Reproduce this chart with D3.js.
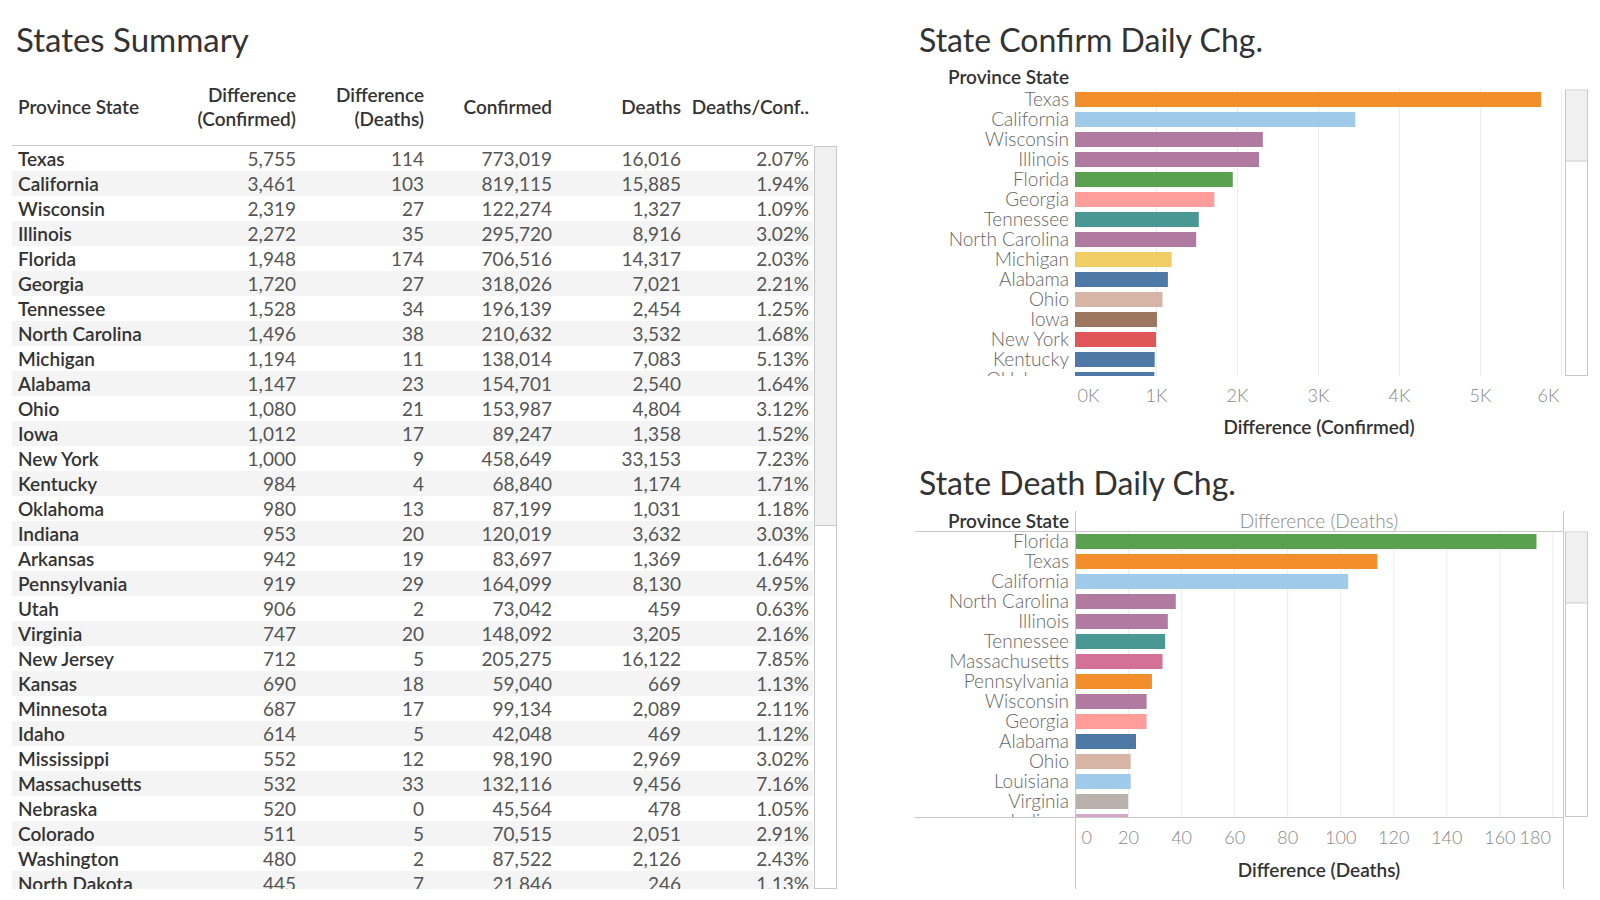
<!DOCTYPE html>
<html><head><meta charset="utf-8">
<script src="https://cdn.jsdelivr.net/npm/d3@7"></script>
<style>
html,body{margin:0;padding:0;background:#fff;}
svg{display:block;font-family:Lato,"Open Sans",sans-serif;}
</style></head>
<body>
<svg id="c" width="1600" height="900"></svg>
<script>
// ---- Table data ----
const states = ["Texas","California","Wisconsin","Illinois","Florida","Georgia","Tennessee","North Carolina","Michigan","Alabama","Ohio","Iowa","New York","Kentucky","Oklahoma","Indiana","Arkansas","Pennsylvania","Utah","Virginia","New Jersey","Kansas","Minnesota","Idaho","Mississippi","Massachusetts","Nebraska","Colorado","Washington","North Dakota"];
const diffConfirmed = [5755,3461,2319,2272,1948,1720,1528,1496,1194,1147,1080,1012,1000,984,980,953,942,919,906,747,712,690,687,614,552,532,520,511,480,445];
const diffDeaths = [114,103,27,35,174,27,34,38,11,23,21,17,9,4,13,20,19,29,2,20,5,18,17,5,12,33,0,5,2,7];
const confirmed = [773019,819115,122274,295720,706516,318026,196139,210632,138014,154701,153987,89247,458649,68840,87199,120019,83697,164099,73042,148092,205275,59040,99134,42048,98190,132116,45564,70515,87522,21846];
const deaths = [16016,15885,1327,8916,14317,7021,2454,3532,7083,2540,4804,1358,33153,1174,1031,3632,1369,8130,459,3205,16122,669,2089,469,2969,9456,478,2051,2126,246];
const deathRate = [2.07,1.94,1.09,3.02,2.03,2.21,1.25,1.68,5.13,1.64,3.12,1.52,7.23,1.71,1.18,3.03,1.64,4.95,0.63,2.16,7.85,1.13,2.11,1.12,3.02,7.16,1.05,2.91,2.43,1.13];

// ---- Confirmed daily change chart ----
const confStates = ["Texas","California","Wisconsin","Illinois","Florida","Georgia","Tennessee","North Carolina","Michigan","Alabama","Ohio","Iowa","New York","Kentucky","Oklahoma"];
const confValues = [5755,3461,2319,2272,1948,1720,1528,1496,1194,1147,1080,1012,1000,984,980];
const confTicks = [0,1000,2000,3000,4000,5000,6000];

// ---- Death daily change chart ----
const deathStates = ["Florida","Texas","California","North Carolina","Illinois","Tennessee","Massachusetts","Pennsylvania","Wisconsin","Georgia","Alabama","Ohio","Louisiana","Virginia","Indiana"];
const deathValues = [174,114,103,38,35,34,33,29,27,27,23,21,21,20,20];
const deathTicks = [0,20,40,60,80,100,120,140,160,180];

// ---- state colours ----
const stateColor = {
  "Texas":"#F28E2B","California":"#A0CBE8","Wisconsin":"#B07AA1","Illinois":"#B07AA1",
  "Florida":"#59A14F","Georgia":"#FF9D9A","Tennessee":"#499894","North Carolina":"#B07AA1",
  "Michigan":"#F1CE63","Alabama":"#4E79A7","Ohio":"#D7B5A6","Iowa":"#9D7660",
  "New York":"#E15759","Kentucky":"#4E79A7","Oklahoma":"#4E79A7","Massachusetts":"#D37295",
  "Pennsylvania":"#F28E2B","Louisiana":"#A0CBE8","Virginia":"#BAB0AC","Indiana":"#D4A6C8"
};

const FS = 19;
const svg = d3.select("#c");
const fmt = d3.format(",");
const defs = svg.append("defs");

// ===== Table =====
svg.append("text").attr("x",16).attr("y",52).attr("font-size",33).attr("fill","#333").text("States Summary");

const cols = [
  {h:["Difference","(Confirmed)"], x:296, v:diffConfirmed, f:fmt},
  {h:["Difference","(Deaths)"], x:424, v:diffDeaths, f:fmt},
  {h:["Confirmed"], x:552, v:confirmed, f:fmt},
  {h:["Deaths"], x:681, v:deaths, f:fmt},
  {h:["Deaths/Conf.."], x:809, v:deathRate, f:d=>d3.format(".2f")(d)+"%"}
];
const hdr = svg.append("g").attr("font-size",FS).attr("fill","#333").attr("font-weight",600);
hdr.append("text").attr("x",18).attr("y",114).text("Province State");
cols.forEach(c=>{
  if(c.h.length===2){
    hdr.append("text").attr("x",c.x).attr("y",102).attr("text-anchor","end").text(c.h[0]);
    hdr.append("text").attr("x",c.x).attr("y",126).attr("text-anchor","end").text(c.h[1]);
  } else {
    hdr.append("text").attr("x",c.x).attr("y",114).attr("text-anchor","end").text(c.h[0]);
  }
});
svg.append("line").attr("x1",12).attr("x2",813).attr("y1",145.5).attr("y2",145.5).attr("stroke","#ccc");

defs.append("clipPath").attr("id","tclip").append("rect").attr("x",0).attr("y",146).attr("width",814).attr("height",743);
const rowY = d3.scaleBand().domain(states).range([146,146+25*states.length]);
const tb = svg.append("g").attr("clip-path","url(#tclip)");
const rows = tb.selectAll("g.row").data(states).join("g").attr("class","row")
  .attr("transform",d=>`translate(0,${rowY(d)})`);
rows.filter((d,i)=>i%2===1).append("rect").attr("x",12).attr("width",801).attr("height",25).attr("fill","#f4f4f4");
rows.append("text").attr("x",18).attr("y",19.5).attr("font-size",FS).attr("font-weight",600).attr("fill","#333").text(d=>d);
cols.forEach(c=>{
  rows.append("text").attr("x",c.x).attr("y",19.5).attr("text-anchor","end").attr("font-size",FS)
    .attr("fill","#555").text((d,i)=>c.f(c.v[i]));
});
// table scrollbar
svg.append("rect").attr("x",814.5).attr("y",146.5).attr("width",22).attr("height",742).attr("fill","#fff").attr("stroke","#c8c8c8");
svg.append("rect").attr("x",815).attr("y",147).attr("width",21).attr("height",378).attr("fill","#f0f0f0");
svg.append("line").attr("x1",815).attr("x2",836).attr("y1",525.5).attr("y2",525.5).attr("stroke","#c8c8c8");

// ===== Bar chart helper =====
function barChart(o){
  const g = svg.append("g");
  const x = d3.scaleLinear().domain(o.domain).range([1075,1563]);
  const y = d3.scaleBand().domain(o.cats).range([o.top,o.top+20*o.cats.length]).paddingInner(0.25).paddingOuter(0.125);
  defs.append("clipPath").attr("id",o.id).append("rect").attr("x",900).attr("y",o.top).attr("width",663).attr("height",o.bottom-o.top);
  // gridlines
  g.append("g").selectAll("line").data(o.ticks.slice(1)).join("line")
    .attr("x1",d=>x(d)+0.5).attr("x2",d=>x(d)+0.5).attr("y1",o.gridTop).attr("y2",o.bottom)
    .attr("stroke","#ececec");
  const p = g.append("g").attr("clip-path",`url(#${o.id})`);
  p.selectAll("rect").data(o.cats).join("rect")
    .attr("x",x(0)).attr("y",d=>y(d)).attr("height",y.bandwidth())
    .attr("width",(d,i)=>x(o.values[i])-x(0)).attr("fill",d=>stateColor[d]);
  p.selectAll("text").data(o.cats).join("text")
    .attr("x",1069).attr("y",d=>y(d)+y.bandwidth()/2).attr("dy","0.35em").attr("text-anchor","end")
    .attr("font-size",FS).attr("font-weight",300).attr("fill","#666").text(d=>d);
  // axis
  const ax = d3.axisBottom(x).tickValues(o.ticks).tickSize(0).tickFormat(o.tf);
  const axg = g.append("g").attr("transform",`translate(0,${o.bottom})`).call(ax);
  axg.select(".domain").remove();
  axg.selectAll("text").attr("font-size",18).attr("font-weight",300).attr("fill","#888")
    .attr("font-family","Lato,sans-serif").attr("dy","0.35em").attr("y",o.tickY-o.bottom)
    .attr("text-anchor",(d,i)=> i===0?"start":(i===o.ticks.length-1?"end":"middle"))
    .attr("dx",(d,i)=> i===0?o.firstDx:(i===o.ticks.length-1?-2:0));
  g.append("text").attr("x",1319).attr("y",o.titleY).attr("text-anchor","middle").attr("font-size",FS)
    .attr("font-weight",600).attr("fill","#333").text(o.axisTitle);
  // scrollbar
  g.append("rect").attr("x",1565.5).attr("y",o.top+0.5).attr("width",22).attr("height",o.bottom-o.top-1).attr("fill","#fff").attr("stroke","#c8c8c8");
  g.append("rect").attr("x",1566).attr("y",o.top+1).attr("width",21).attr("height",o.thumb).attr("fill","#f0f0f0");
  g.append("line").attr("x1",1566).attr("x2",1587).attr("y1",o.top+1+o.thumb+0.5).attr("y2",o.top+1+o.thumb+0.5).attr("stroke","#c8c8c8");
  return {g,x,y};
}

// ===== Confirmed chart =====
svg.append("text").attr("x",919).attr("y",52).attr("font-size",32).attr("fill","#333").text("State Confirm Daily Chg.");
svg.append("text").attr("x",1069).attr("y",84).attr("text-anchor","end").attr("font-size",FS).attr("font-weight",600).attr("fill","#333").text("Province State");
barChart({id:"c1",cats:confStates,values:confValues,domain:[0,6025],ticks:confTicks,tf:d=>(d/1000)+"K",
  top:89.5,bottom:376,gridTop:89,tickY:396,titleY:434,axisTitle:"Difference (Confirmed)",thumb:70,firstDx:2});

// ===== Death chart =====
svg.append("text").attr("x",919).attr("y",495).attr("font-size",32).attr("fill","#333").text("State Death Daily Chg.");
svg.append("text").attr("x",1069).attr("y",528).attr("text-anchor","end").attr("font-size",FS).attr("font-weight",600).attr("fill","#333").text("Province State");
svg.append("text").attr("x",1319).attr("y",528).attr("text-anchor","middle").attr("font-size",FS).attr("font-weight",300).attr("fill","#888").text("Difference (Deaths)");
barChart({id:"c2",cats:deathStates,values:deathValues,domain:[0,184],ticks:deathTicks,tf:d=>d,
  top:531.5,bottom:817,gridTop:531,tickY:838,titleY:877,axisTitle:"Difference (Deaths)",thumb:70,firstDx:6});
// frame lines for death chart
const fl = svg.append("g").attr("stroke","#c8c8c8");
fl.append("line").attr("x1",915).attr("x2",1563).attr("y1",531.5).attr("y2",531.5);
fl.append("line").attr("x1",915).attr("x2",1563).attr("y1",817.5).attr("y2",817.5);
fl.append("line").attr("x1",1075.5).attr("x2",1075.5).attr("y1",511).attr("y2",889);
fl.append("line").attr("x1",1563.5).attr("x2",1563.5).attr("y1",511).attr("y2",889);
</script>
</body></html>
